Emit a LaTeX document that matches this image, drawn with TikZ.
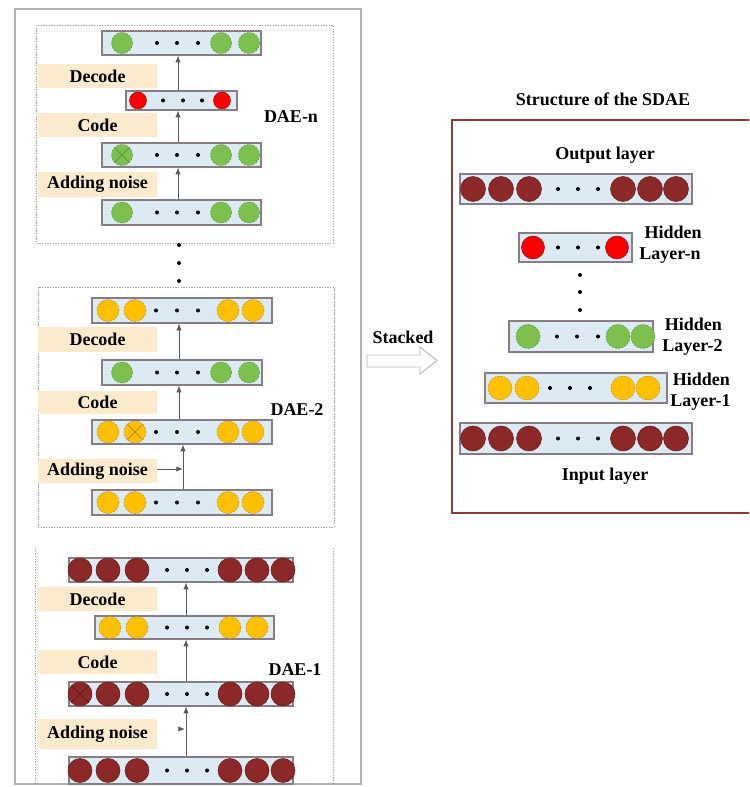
\documentclass[tikz,border=0pt]{standalone}
\usepackage{fontspec}
\setmainfont{Liberation Serif}
\usetikzlibrary{arrows.meta,fit}
\definecolor{boxfill}{RGB}{220,235,243}
\definecolor{boxline}{RGB}{135,125,130}
\definecolor{beige}{RGB}{252,234,204}
\definecolor{cgreen}{RGB}{125,192,78}
\definecolor{cgreenl}{RGB}{90,150,60}
\definecolor{corange}{RGB}{255,192,0}
\definecolor{corangel}{RGB}{190,140,40}
\definecolor{cred}{RGB}{250,0,0}
\definecolor{credl}{RGB}{150,20,20}
\definecolor{cbrown}{RGB}{140,40,40}
\definecolor{cbrownl}{RGB}{100,28,28}
\definecolor{sdaeframe}{RGB}{140,60,55}
\newcommand{\circs}[4]{\foreach \cx in {#4} {\path[#3] (\cx,#1) circle (#2);}}
\newcommand{\rdots}[2]{\foreach \cx in {#2} {\fill (\cx,#1) circle (2);}}
\newcommand{\xcross}[4]{\draw[#4, line width=0.6pt] (#1,#2) ++(-0.7*#3,-0.7*#3) -- ++(1.4*#3,1.4*#3) (#1,#2) ++(-0.7*#3,0.7*#3) -- ++(1.4*#3,-1.4*#3);}
\begin{document}
\begin{tikzpicture}[x=0.75pt,y=-0.75pt,
  rowbox/.style={draw=boxline, fill=boxfill, line width=1pt, inner sep=0pt},
  labbox/.style={fill=beige, inner sep=0pt, minimum width={119*0.75pt}, font=\fontsize{13.5}{15}\selectfont\bfseries},
  txt/.style={inner sep=0pt, font=\fontsize{13.5}{15}\selectfont\bfseries},
  two/.style={inner sep=0pt, align=left, anchor=west, font=\fontsize{13.5}{15.5}\selectfont\bfseries},
  dae/.style={draw=black!38, line width=0.6pt, dash pattern=on 1pt off 1pt},
  arr/.style={draw=black!65, line width=0.6pt, -{Latex[length=5pt,width=4pt]}},
  gc/.style={fill=cgreen, draw=cgreenl, line width=0.4pt, dash pattern=on 1.5pt off 1pt},
  oc/.style={fill=corange, draw=corangel, line width=0.4pt, dash pattern=on 1.5pt off 1pt},
  rc/.style={fill=cred, draw=credl, line width=0.4pt},
  bc/.style={fill=cbrown, draw=cbrownl, line width=0.4pt}]
\clip (0,0) rectangle (749,787);
\fill[white] (0,0) rectangle (749,787);

% outer frame of left part
\draw[black!30, line width=0.8pt] (15,9) rectangle (361,784);

% ================= DAE-n =================
\draw[dae] (36,25) rectangle (333,243);
\node[rowbox, fit={(102,31) (261,55)}] (n4) {};
\circs{43}{10.5}{gc}{122,221,249}
\rdots{43}{157,177,198}
\node[labbox, minimum height={24*0.75pt}] (ndec) at (97.5,76) {Decode};
\node[rowbox, fit={(126,91) (237,110)}] (n3) {};
\circs{100.5}{8.5}{rc}{138,222}
\rdots{100.5}{163,183,202}
\node[labbox, minimum height={24*0.75pt}] (ncode) at (97.5,125) {Code};
\node[txt] (daen) at (291,117) {DAE-n};
\node[rowbox, fit={(102,143) (261,167)}] (n2) {};
\circs{155}{10.5}{gc}{122,221,249}
\xcross{122}{155}{10.5}{cgreenl}
\rdots{155}{157,177,198}
\node[labbox, minimum height={25*0.75pt}] (nnoise) at (97.5,184.5) {Adding noise};
\node[rowbox, fit={(102,200) (261,225)}] (n1) {};
\circs{212.5}{10.5}{gc}{122,221,249}
\rdots{212.5}{157,177,198}
\draw[arr] (n1.north -| 178,0) -- (n2.south -| 178,0);
\draw[arr] (n2.north -| 178,0) -- (n3.south -| 178,0);
\draw[arr] (n3.north -| 178,0) -- (n4.south -| 178,0);
\foreach \yy in {245,263,281} {\fill (179,\yy) circle (2);}

% ================= DAE-2 =================
\draw[dae] (38,287) rectangle (334,527);
\node[rowbox, fit={(92,298) (272,323)}] (m4) {};
\circs{310.5}{11}{oc}{108,135,228,253}
\rdots{310.5}{156,177,198}
\node[labbox, minimum height={25*0.75pt}] (mdec) at (97.5,339.5) {Decode};
\node[rowbox, fit={(102,360) (262,385)}] (m3) {};
\circs{372.5}{10.5}{gc}{122,221,249}
\rdots{372.5}{157,177,198}
\node[labbox, minimum height={23*0.75pt}] (mcode) at (97.5,402.5) {Code};
\node[txt] (dae2) at (297,410) {DAE-2};
\node[rowbox, fit={(92,420) (272,444)}] (m2) {};
\circs{432}{11}{oc}{108,135,228,253}
\xcross{135}{432}{11}{corangel}
\rdots{432}{156,177,198}
\node[labbox, minimum height={24*0.75pt}] (mnoise) at (97.5,471) {Adding noise};
\node[rowbox, fit={(92,490) (272,515)}] (m1) {};
\circs{502.5}{11}{oc}{108,135,228,253}
\rdots{502.5}{156,177,198}
\coordinate (mtip) at (183,469);
\draw[arr] (mnoise.east |- mtip) -- (mtip);
\draw[arr] (m1.north -| 183,0) -- (m2.south -| 183,0);
\draw[arr] (m2.north -| 179,0) -- (m3.south -| 179,0);
\draw[arr] (m3.north -| 179,0) -- (m4.south -| 179,0);

% ================= DAE-1 =================
\draw[dae] (35,548) -- (35,784) (333,548) -- (333,784);
\node[rowbox, fit={(69,558) (293,582)}] (k4) {};
\circs{570}{12}{bc}{80,108,137,230,257,283}
\rdots{570}{167,187,207}
\node[labbox, minimum height={24*0.75pt}] (kdec) at (97.5,599) {Decode};
\node[rowbox, fit={(95,616) (274,639)}] (k3) {};
\circs{627.5}{11}{oc}{110,137,230,257}
\rdots{627.5}{167,187,207}
\node[labbox, minimum height={24*0.75pt}] (kcode) at (97.5,662) {Code};
\node[txt] (dae1) at (295,670) {DAE-1};
\node[rowbox, fit={(69,682) (293,706)}] (k2) {};
\circs{694}{12}{bc}{80,108,137,230,257,283}
\xcross{80}{694}{12}{cbrownl}
\rdots{694}{167,187,207}
\node[labbox, minimum height={30*0.75pt}] (knoise) at (97.5,734) {Adding noise};
\node[rowbox, fit={(69,757) (293,784)}] (k1) {};
\circs{770.5}{12}{bc}{80,108,137,230,257,283}
\rdots{770.5}{167,187,207}
\coordinate (ktail) at (179,729);
\coordinate (ktip) at (185,729);
\draw[arr] (ktail) -- (ktip);
\draw[arr] (k1.north -| 186,0) -- (k2.south -| 186,0);
\draw[arr] (k2.north -| 186,0) -- (k3.south -| 186,0);
\draw[arr] (k3.north -| 186,0) -- (k4.south -| 186,0);

% ================= Stacked arrow =================
\node[txt] (stk) at (403,337) {Stacked};
\draw[draw=black!28, fill=white, line width=0.7pt] (367,355) -- (420,355) -- (420,347) -- (437,360.5) -- (420,374) -- (420,367) -- (367,367) -- cycle;

% ================= SDAE structure =================
\node[txt] (title) at (603,99) {Structure of the SDAE};
\draw[sdaeframe, line width=1.5pt] (800,120) -- (452,120) -- (452,513) -- (800,513);
\node[txt] (outl) at (605,155) {Output layer};
\node[rowbox, fit={(460,174) (692,204)}] (out) {};
\circs{189}{12.5}{bc}{473,501,529,623,650,676}
\rdots{189}{558,578,598}
\node[rowbox, fit={(519,233) (632,262)}] (hn) {};
\circs{247.5}{11.5}{rc}{533,617}
\rdots{247.5}{558,578,598}
\node[two] (hnt) at (639,245) {\hspace*{4pt}Hidden\\Layer-n};
\foreach \yy in {275,292,310} {\fill (580,\yy) circle (2);}
\node[rowbox, fit={(509,321) (653,352)}] (h2) {};
\circs{336.5}{12}{gc}{528,618,643}
\rdots{336.5}{557,577,598}
\node[two] (h2t) at (662,337) {\hspace*{2pt}Hidden\\Layer-2};
\node[rowbox, fit={(485,373) (667,403)}] (h1) {};
\circs{388}{12}{oc}{500,527,623,648}
\rdots{388}{550,570,590}
\node[two] (h1t) at (670,392) {\hspace*{2pt}Hidden\\Layer-1};
\node[rowbox, fit={(460,423) (692,454)}] (inp) {};
\circs{438.5}{12.5}{bc}{473,501,529,623,650,676}
\rdots{438.5}{558,578,598}
\node[txt] (inl) at (605,476) {Input layer};
\end{tikzpicture}
\end{document}
